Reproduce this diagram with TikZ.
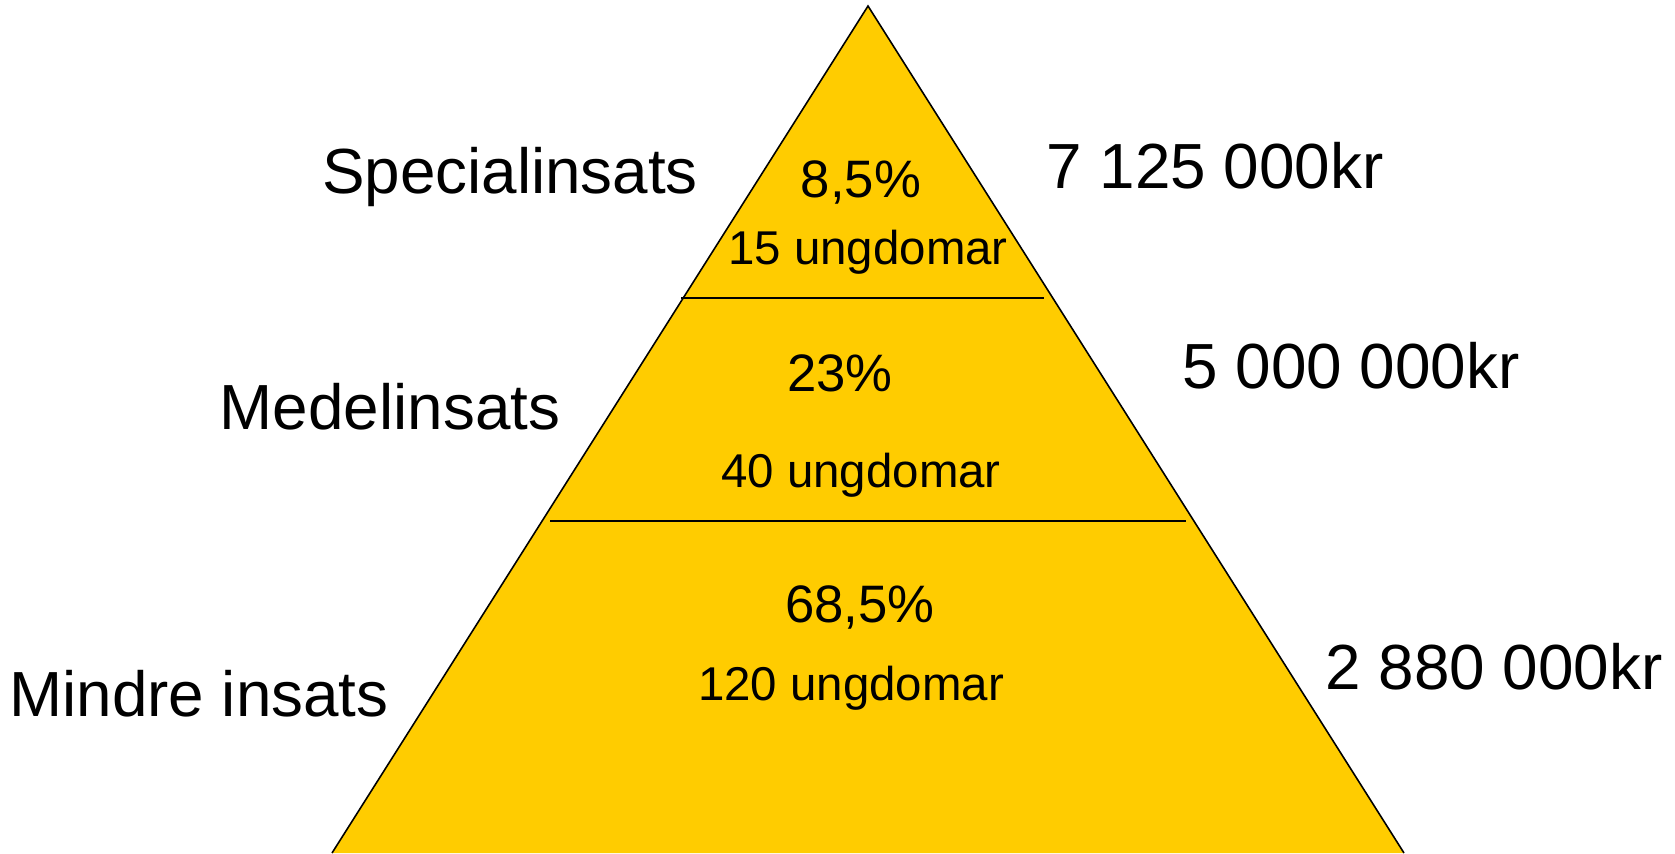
\documentclass[tikz,border=0pt]{standalone}
\usepackage{fontspec}
\setmainfont{Liberation Sans}
\definecolor{pyramidgold}{RGB}{255,204,0}
\begin{document}
\begin{tikzpicture}[x=0.02cm,y=-0.02cm,
  tier/.style={font=\fontsize{36.3}{40}\selectfont,anchor=base,inner sep=0pt},
  share/.style={font=\fontsize{30}{34}\selectfont,anchor=base,inner sep=0pt},
  count/.style={font=\fontsize{27}{30}\selectfont,anchor=base,inner sep=0pt}]
  \useasboundingbox (0,0) rectangle (1675,853);
  \coordinate (apex) at (868,6);
  \coordinate (baseL) at (332,853);
  \coordinate (baseR) at (1404,853);
  \fill[pyramidgold] (apex) -- (baseL) -- (baseR) -- cycle;
  \draw[line width=0.9pt] (baseL) -- (apex) -- (baseR);

  % tier borders
  \coordinate (upL) at (681,298);
  \coordinate (upR) at (1044,298);
  \coordinate (lowL) at (550,521);
  \coordinate (lowR) at (1186,521);
  \draw[line width=1.1pt] (upL) -- (upR);
  \draw[line width=1.1pt] (lowL) -- (lowR);

  % labels left
  \node[tier] (special) at (510,193) {Specialinsats};
  \node[tier] (medel) at (390,429) {Medelinsats};
  \node[tier] (mindre) at (199,716) {Mindre insats};

  % costs right
  \node[tier] (costSpecial) at (1215,188) {7 125 000kr};
  \node[tier] (costMedel) at (1351,388) {5 000 000kr};
  \node[tier] (costMindre) at (1494,689) {2 880 000kr};

  % inside the pyramid
  \node[share] (shareSpecial) at (861,197) {8,5\%};
  \node[count] (countSpecial) at (868,264) {15 ungdomar};
  \node[share] (shareMedel) at (840,391) {23\%};
  \node[count] (countMedel) at (861,487) {40 ungdomar};
  \node[share] (shareMindre) at (860,622) {68,5\%};
  \node[count] (countMindre) at (851,700) {120 ungdomar};
\end{tikzpicture}
\end{document}
